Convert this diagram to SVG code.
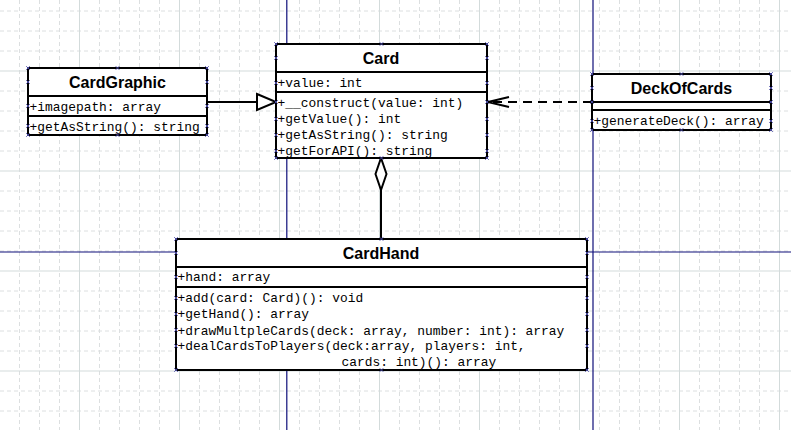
<svg xmlns="http://www.w3.org/2000/svg" xmlns:xlink="http://www.w3.org/1999/xlink" width="791" height="430" viewBox="0 0 791 430">
<style>
.gd{stroke:#dcdfe0;stroke-width:1;stroke-dasharray:4 3;fill:none}
.gs{stroke:#d3dbdb;stroke-width:1;fill:none}
.bl{stroke:#10107a;stroke-width:1.2;fill:none}
.box{fill:#fff;stroke:#000;stroke-width:2}
.dv{stroke:#000;stroke-width:2;fill:none}
.hd{font-family:"Liberation Sans",Arial,sans-serif;font-weight:bold;font-size:16px;fill:#000;text-anchor:middle}
.mb{font-family:"Liberation Mono","Courier New",monospace;font-size:12.9px;fill:#000}
.cn{stroke:#000;stroke-width:2;fill:none}
</style>
<defs>
<path id="h" d="M-1.8,-1.8 L1.8,1.8 M-1.8,1.8 L1.8,-1.8" stroke="#4a4aa8" stroke-width="0.9" fill="none"/>
</defs>
<rect width="791" height="430" fill="#fff"/>
<g id="grid">
<path class="gd" d="M19.5,0V430M39.5,0V430M59.5,0V430M99.5,0V430M119.5,0V430M139.5,0V430M159.5,0V430M199.5,0V430M219.5,0V430M239.5,0V430M259.5,0V430M299.5,0V430M319.5,0V430M339.5,0V430M359.5,0V430M399.5,0V430M419.5,0V430M439.5,0V430M459.5,0V430M499.5,0V430M519.5,0V430M539.5,0V430M559.5,0V430M599.5,0V430M619.5,0V430M639.5,0V430M659.5,0V430M699.5,0V430M719.5,0V430M739.5,0V430M759.5,0V430"/>
<path class="gd" d="M0,11H791M0,31H791M0,51H791M0,91H791M0,111H791M0,131H791M0,151H791M0,191H791M0,211H791M0,231H791M0,251H791M0,291H791M0,311H791M0,331H791M0,351H791M0,391H791M0,411H791"/>
<path class="gs" d="M79.5,0V430M179.5,0V430M279.5,0V430M379.5,0V430M479.5,0V430M579.5,0V430M679.5,0V430M779.5,0V430M0,71H791M0,171H791M0,271H791M0,371H791"/>
<path class="bl" d="M286.8,0V430M593,0V430M0,252H791"/>
</g>
<g id="connectors">
<path class="cn" d="M207,102H257"/>
<path d="M257,94L276,102L257,110Z" fill="#fff" stroke="#000" stroke-width="2"/>
<path class="cn" d="M592,102H489" stroke-dasharray="9 6"/>
<path class="cn" d="M509,97L488,102L509,107"/>
<path class="cn" d="M381,190V239"/>
<path d="M381,158L386.5,174L381,190L375.5,174Z" fill="#fff" stroke="#000" stroke-width="2"/>
</g>
<g id="CardGraphic">
<rect class="box" x="28" y="68" width="179" height="67"/>
<path class="dv" d="M28,96H207M28,116H207"/>
<text class="hd" x="117.5" y="88">CardGraphic</text>
<text class="mb" x="29.5" y="111">+imagepath: array</text>
<text class="mb" x="29.5" y="130.5">+getAsString(): string</text>
<g>
<use href="#h" x="28" y="68"/><use href="#h" x="117.5" y="68"/><use href="#h" x="207" y="68"/>
<use href="#h" x="28" y="135"/><use href="#h" x="117.5" y="135"/><use href="#h" x="207" y="135"/>
<use href="#h" x="28" y="82"/><use href="#h" x="28" y="106"/><use href="#h" x="28" y="126"/>
<use href="#h" x="207" y="82"/><use href="#h" x="207" y="106"/><use href="#h" x="207" y="126"/>
</g>
</g>
<g id="Card">
<rect class="box" x="276" y="44" width="211" height="114"/>
<path class="dv" d="M276,72H487M276,92H487"/>
<text class="hd" x="381" y="64">Card</text>
<text class="mb" x="277.5" y="87">+value: int</text>
<text class="mb" x="277.5" y="106.5">+__construct(value: int)</text>
<text class="mb" x="277.5" y="123">+getValue(): int</text>
<text class="mb" x="277.5" y="139">+getAsString(): string</text>
<text class="mb" x="277.5" y="155">+getForAPI(): string</text>
<g>
<use href="#h" x="276" y="44"/><use href="#h" x="381.5" y="44"/><use href="#h" x="487" y="44"/>
<use href="#h" x="276" y="158"/><use href="#h" x="381.5" y="158"/><use href="#h" x="487" y="158"/>
<use href="#h" x="276" y="58"/><use href="#h" x="276" y="83"/><use href="#h" x="276" y="102"/><use href="#h" x="276" y="119"/><use href="#h" x="276" y="135"/><use href="#h" x="276" y="151"/>
<use href="#h" x="487" y="58"/><use href="#h" x="487" y="83"/><use href="#h" x="487" y="102"/><use href="#h" x="487" y="119"/><use href="#h" x="487" y="135"/><use href="#h" x="487" y="151"/>
</g>
</g>
<g id="DeckOfCards">
<rect class="box" x="592" y="74" width="179" height="56"/>
<path class="dv" d="M592,102H771M592,110H771"/>
<text class="hd" x="681.5" y="94">DeckOfCards</text>
<text class="mb" x="593.5" y="125">+generateDeck(): array</text>
<g>
<use href="#h" x="592" y="74"/><use href="#h" x="681.5" y="74"/><use href="#h" x="771" y="74"/>
<use href="#h" x="592" y="130"/><use href="#h" x="681.5" y="130"/><use href="#h" x="771" y="130"/>
<use href="#h" x="592" y="88"/><use href="#h" x="592" y="102"/><use href="#h" x="592" y="121"/>
<use href="#h" x="771" y="88"/><use href="#h" x="771" y="102"/><use href="#h" x="771" y="121"/>
</g>
</g>
<g id="CardHand">
<rect class="box" x="176" y="239" width="411" height="131"/>
<path class="dv" d="M176,267H587M176,287H587"/>
<text class="hd" x="381" y="258.5">CardHand</text>
<text class="mb" x="177.5" y="281">+hand: array</text>
<text class="mb" x="177.5" y="302">+add(card: Card)(): void</text>
<text class="mb" x="177.5" y="318">+getHand(): array</text>
<text class="mb" x="177.5" y="334.5">+drawMultpleCards(deck: array, number: int): array</text>
<text class="mb" x="177.5" y="350">+dealCardsToPlayers(deck:array, players: int,</text>
<text class="mb" x="341.5" y="365.5">cards: int)(): array</text>
<g>
<use href="#h" x="176" y="239"/><use href="#h" x="381.5" y="239"/><use href="#h" x="587" y="239"/>
<use href="#h" x="176" y="370"/><use href="#h" x="381.5" y="370"/><use href="#h" x="587" y="370"/>
<use href="#h" x="176" y="253"/><use href="#h" x="176" y="277"/><use href="#h" x="176" y="298"/><use href="#h" x="176" y="314"/><use href="#h" x="176" y="330"/><use href="#h" x="176" y="346"/>
<use href="#h" x="587" y="253"/><use href="#h" x="587" y="277"/><use href="#h" x="587" y="298"/><use href="#h" x="587" y="314"/><use href="#h" x="587" y="330"/><use href="#h" x="587" y="346"/>
</g>
</g>
</svg>
